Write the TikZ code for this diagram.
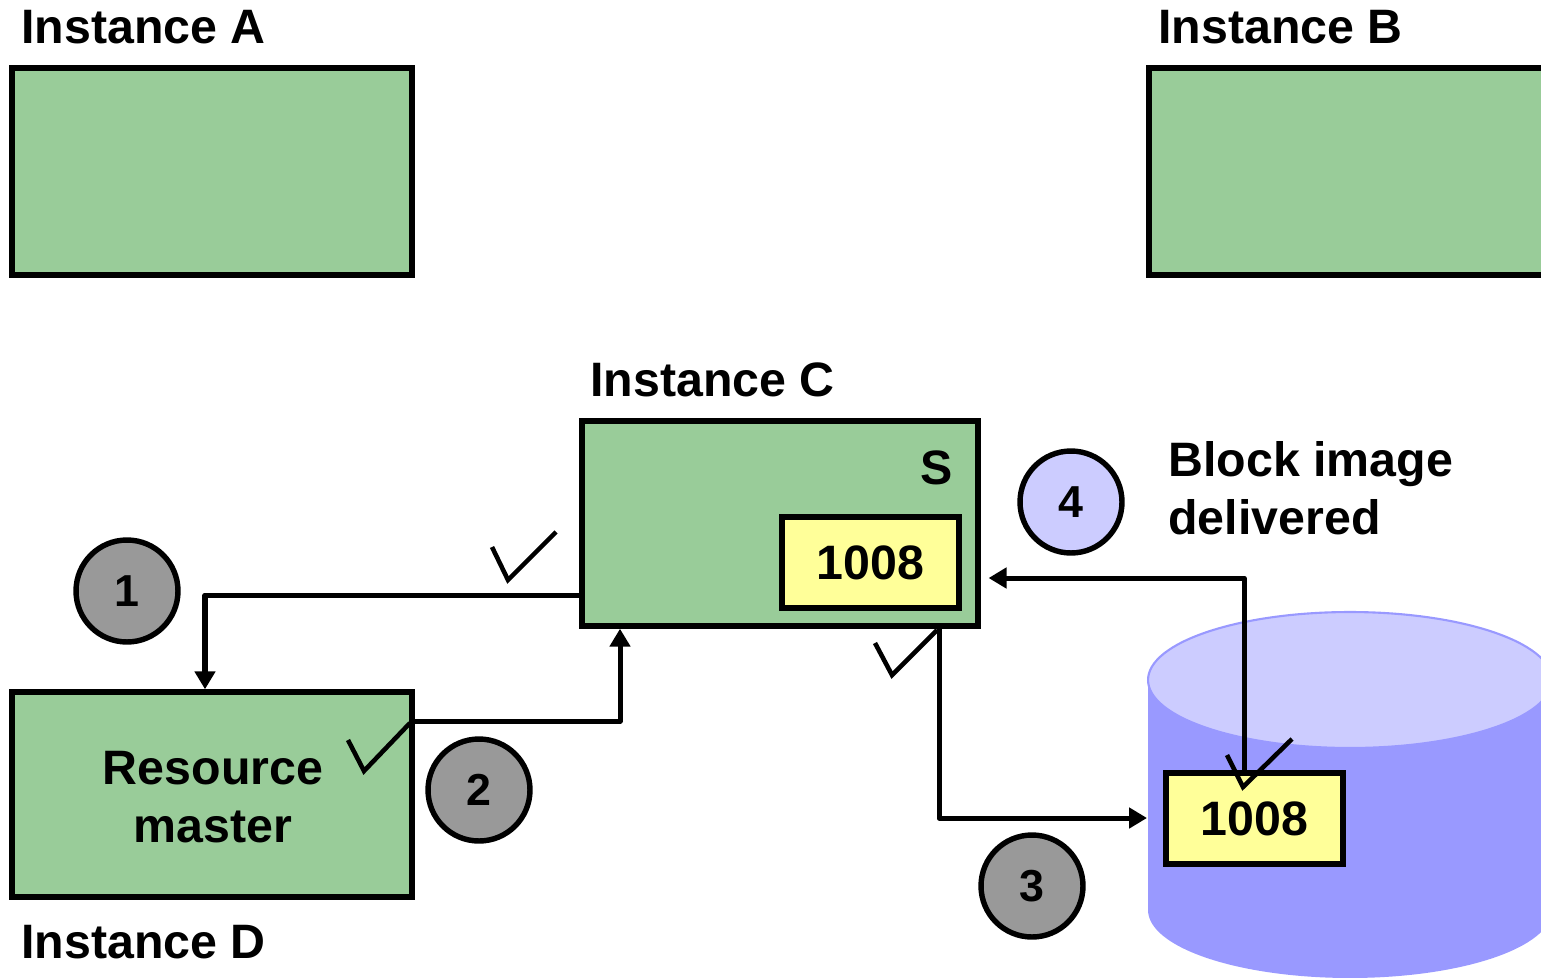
\documentclass[tikz,border=0pt]{standalone}
\usepackage{fontspec}
\setmainfont{Liberation Sans}
\usetikzlibrary{arrows.meta}
\definecolor{boxgreen}{HTML}{99CC99}
\definecolor{memyellow}{HTML}{FFFF99}
\definecolor{stepgray}{HTML}{999999}
\definecolor{steplilac}{HTML}{CCCCFF}
\definecolor{diskbody}{HTML}{9999FF}
\definecolor{disktop}{HTML}{CCCCFF}
\begin{document}
\begin{tikzpicture}[x=0.02cm,y=-0.02cm,
  font=\fontsize{27.5}{33}\selectfont\bfseries,
  inst/.style={draw, line width=3.1pt, fill=boxgreen, inner sep=0pt},
  blockbox/.style={draw, line width=3.1pt, fill=memyellow, inner sep=0pt,
    minimum width=3.54cm, minimum height=1.82cm},
  title/.style={inner sep=0pt, anchor=base west},
  stepnum/.style={circle, draw, line width=3.1pt, minimum size=2.04cm, inner sep=0pt,
    font=\fontsize{25.5}{30}\selectfont\bfseries},
  conn/.style={line width=2.85pt, line join=round,
    -{Triangle[length=10.2pt,width=11.4pt]}},
  tick/.style={line width=2.6pt, line join=miter}]
\useasboundingbox (0,0) rectangle (1541,977);
\clip (0,0) rectangle (1541,977);

% disk holding the block
\fill[diskbody] (1148,680) -- (1148,910)
  arc[start angle=180, end angle=360, x radius=4.04cm, y radius=1.36cm]
  -- (1552,680) -- cycle;
\filldraw[fill=disktop, draw=diskbody, line width=1.2pt]
  (1350,680) ellipse[x radius=4.04cm, y radius=1.36cm];

% instances
\node[inst, minimum width=8cm, minimum height=4.14cm] (boxA) at (212,171.5) {};
\node[inst, minimum width=8.22cm, minimum height=4.14cm] (boxB) at (1354.5,171.5) {};
\node[inst, minimum width=7.92cm, minimum height=4.1cm] (boxC) at (780,523.5) {};
\node[inst, minimum width=8cm, minimum height=4.1cm] (boxD) at (212,794.5) {};
\node[inner sep=0pt, align=center] (master) at (213,797) {Resource\\master};

% block copies
\node[blockbox] (bufC) at (870.5,562.5) {1008};
\node[blockbox] (diskbox) at (1254.5,818.5) {1008};
\node[inner sep=0pt] (modeS) at (937,468) {S};

% messages
\coordinate (k1) at (205,595);
\draw[conn] (k1 -| boxC.west) -- (k1) -- (k1 |- boxD.north);
\coordinate (k2) at (620,721);
\draw[conn] (k2 -| boxD.east) -- (k2) -- (k2 |- boxC.south);
\coordinate (k3) at (939,818);
\coordinate (diskL) at (1147,818);
\draw[conn] (k3 |- boxC.south) -- (k3) -- (diskL);
\coordinate (k4) at (1244,578);
\draw[conn, shorten >=4.5pt] (k4 |- diskbox.north) -- (k4) -- (k4 -| boxC.east);

% acknowledgement ticks
\draw[tick] (492,547) -- (508,580) -- (556,532);
\draw[tick] (348,740) -- (364,771) -- (410,723);
\draw[tick] (875,643) -- (892,675) -- (937,630);
\draw[tick] (1227,755) -- (1243,787) -- (1292,739);

% step numbers
\node[stepnum, fill=stepgray] (s1) at (127,591) {1};
\node[stepnum, fill=stepgray] (s2) at (479,790) {2};
\node[stepnum, fill=stepgray] (s3) at (1032,886) {3};
\node[stepnum, fill=steplilac] (s4) at (1071,502) {4};

% labels
\node[title] (labA) at (21,43) {Instance A};
\node[title] (labB) at (1158,43) {Instance B};
\node[title] (labC) at (590,396) {Instance C};
\node[title] (labD) at (21,958) {Instance D};
\node[inner sep=0pt, anchor=north west, align=left] (labDel) at (1168,441)
  {Block image\\delivered};
\end{tikzpicture}
\end{document}
